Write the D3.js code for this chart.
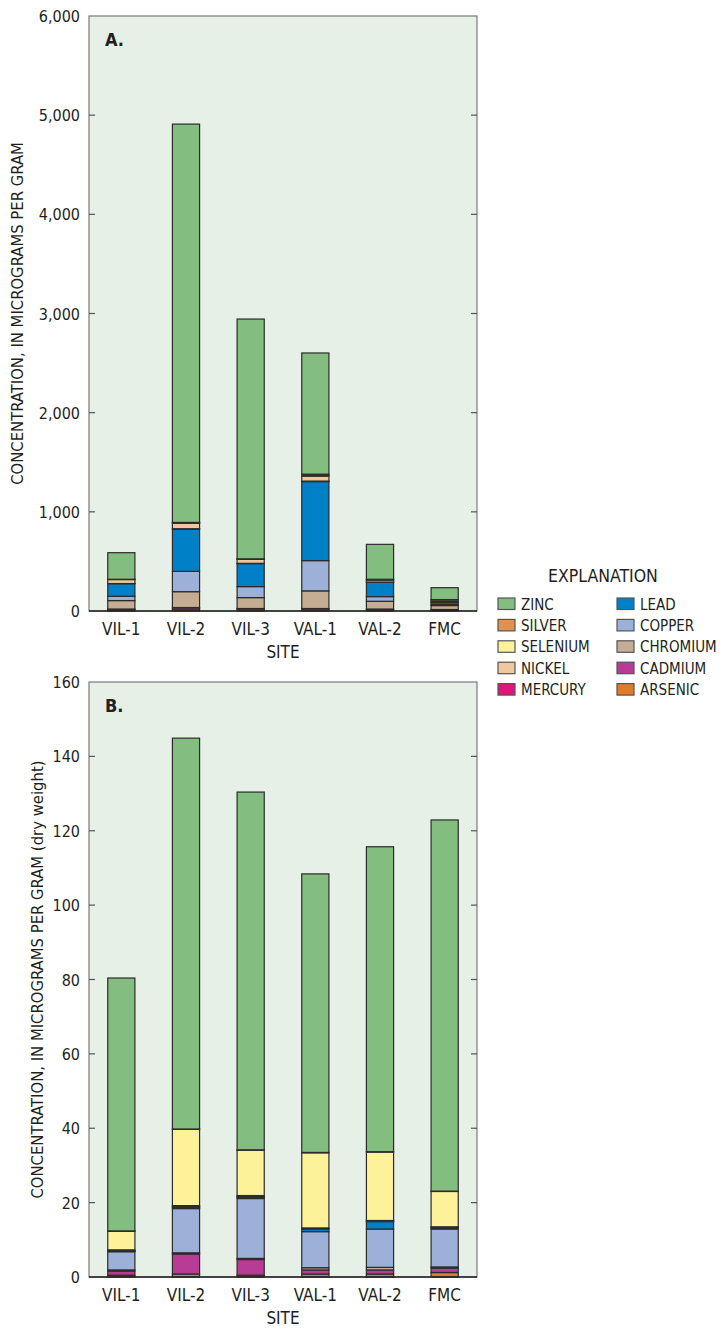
<!DOCTYPE html>
<html>
<head>
<meta charset="utf-8">
<script src="https://cdn.jsdelivr.net/npm/d3@7"></script>
<style>
  body { margin: 0; background: #fff; }
  svg text { font-family: "Liberation Sans Narrow", "DejaVu Sans Condensed", "Arial Narrow", sans-serif; fill: #231f20; }
</style>
</head>
<body>
<div id="chart"></div>
<script>
// sites along x
var sites = ["VIL-1", "VIL-2", "VIL-3", "VAL-1", "VAL-2", "FMC"];
// stacked bottom to top
var metals = ["ARSENIC", "CADMIUM", "CHROMIUM", "COPPER", "LEAD", "MERCURY", "NICKEL", "SELENIUM", "SILVER", "ZINC"];
var metalColors = ["#e07b2a", "#b83c96", "#c4ad92", "#9db0d8", "#0080c6", "#e0157a", "#f0c8a0", "#fdf29a", "#e0914f", "#84bd80"];
// legend order (two columns)
var legendLeft = ["ZINC", "SILVER", "SELENIUM", "NICKEL", "MERCURY"];
var legendRight = ["LEAD", "COPPER", "CHROMIUM", "CADMIUM", "ARSENIC"];

// panel A values, micrograms per gram
var arsenicA = [15, 20, 20, 20, 15, 10];
var cadmiumA = [5, 15, 5, 5, 5, 5];
var chromiumA = [85, 160, 110, 178, 78, 40];
var copperA = [43, 205, 111, 305, 47, 10];
var leadA = [128, 425, 232, 797, 145, 20];
var mercuryA = [1, 5, 3, 5, 2, 2];
var nickelA = [40, 55, 40, 50, 20, 10];
var seleniumA = [2, 5, 3, 10, 5, 15];
var silverA = [1, 3, 2, 10, 3, 3];
var zincA = [268, 4017, 2418, 1222, 352, 120];
var ticksA = [0, 1000, 2000, 3000, 4000, 5000, 6000];

// panel B values, micrograms per gram dry weight
var arsenicB = [0.5, 0.8, 0.5, 0.8, 0.8, 1.2];
var cadmiumB = [1.1, 5.4, 4.2, 1.1, 1.1, 1.2];
var chromiumB = [0.3, 0.3, 0.3, 0.6, 0.7, 0.3];
var copperB = [4.9, 11.9, 16.1, 9.7, 10.3, 10.2];
var leadB = [0.2, 0.4, 0.4, 0.7, 2.0, 0.3];
var mercuryB = [0.1, 0.1, 0.1, 0.1, 0.1, 0.1];
var nickelB = [0.2, 0.3, 0.3, 0.2, 0.2, 0.2];
var seleniumB = [5.0, 20.5, 12.2, 20.2, 18.4, 9.5];
var silverB = [0.1, 0.1, 0.1, 0.1, 0.1, 0.1];
var zincB = [68.0, 105.1, 96.2, 74.9, 82.0, 99.8];
var ticksB = [0, 20, 40, 60, 80, 100, 120, 140, 160];

var svg = d3.select("#chart").append("svg")
    .attr("width", 722)
    .attr("height", 1332);

var color = d3.scaleOrdinal().domain(metals).range(metalColors);

function buildRows(cols) {
  return sites.map(function (s, i) {
    var row = { site: s };
    metals.forEach(function (m, j) { row[m] = cols[j][i]; });
    return row;
  });
}

function drawPanel(opt) {
  var x = d3.scaleBand().domain(sites)
      .range([opt.left, opt.right])
      .paddingInner(0.58).paddingOuter(0.29);
  var y = d3.scaleLinear().domain([0, opt.max]).range([opt.bottom, opt.top]);

  var g = svg.append("g");

  g.append("rect")
      .attr("x", opt.left).attr("y", opt.top)
      .attr("width", opt.right - opt.left).attr("height", opt.bottom - opt.top)
      .attr("fill", "#e6f0e6")
      .attr("stroke", "#7a7a7a").attr("stroke-width", 1.2);

  // inward ticks on both sides
  g.append("g").selectAll("line.tl")
      .data(opt.ticks.slice(1, -1)).enter().append("line")
      .attr("x1", opt.left).attr("x2", opt.left + 6)
      .attr("y1", d => y(d)).attr("y2", d => y(d))
      .attr("stroke", "#555").attr("stroke-width", 1.2);
  g.append("g").selectAll("line.tr")
      .data(opt.ticks.slice(1, -1)).enter().append("line")
      .attr("x1", opt.right).attr("x2", opt.right - 6)
      .attr("y1", d => y(d)).attr("y2", d => y(d))
      .attr("stroke", "#555").attr("stroke-width", 1.2);

  g.append("g").selectAll("text")
      .data(opt.ticks).enter().append("text")
      .attr("x", opt.left - 9)
      .attr("y", d => y(d) + 6)
      .attr("text-anchor", "end")
      .attr("font-size", "16px")
      .text(d => d3.format(",")(d));

  var stacked = d3.stack().keys(metals)(buildRows(opt.cols));

  g.append("g").selectAll("g")
      .data(stacked).enter().append("g")
      .attr("fill", d => color(d.key))
      .selectAll("rect")
      .data(d => d).enter().append("rect")
      .attr("x", d => x(d.data.site))
      .attr("width", x.bandwidth())
      .attr("y", d => y(d[1]))
      .attr("height", d => y(d[0]) - y(d[1]))
      .attr("stroke", "#2b2b2b")
      .attr("stroke-width", 1.2);

  // x axis line
  g.append("line")
      .attr("x1", opt.left).attr("x2", opt.right)
      .attr("y1", opt.bottom).attr("y2", opt.bottom)
      .attr("stroke", "#231f20").attr("stroke-width", 1.6);

  g.append("g").selectAll("text")
      .data(sites).enter().append("text")
      .attr("x", d => x(d) + x.bandwidth() / 2)
      .attr("y", opt.bottom + 24)
      .attr("text-anchor", "middle")
      .attr("font-size", "17px")
      .text(d => d);

  g.append("text")
      .attr("x", (opt.left + opt.right) / 2)
      .attr("y", opt.bottom + 47)
      .attr("text-anchor", "middle")
      .attr("font-size", "17px")
      .text("SITE");

  g.append("text")
      .attr("transform", "translate(" + opt.titleX + "," + (opt.top + opt.bottom) / 2 + ") rotate(-90)")
      .attr("text-anchor", "middle")
      .attr("font-size", "16.5px")
      .text(opt.title);

  g.append("text")
      .attr("x", opt.left + 16)
      .attr("y", opt.top + 30)
      .attr("font-size", "18px")
      .attr("font-weight", "bold")
      .text(opt.letter);
}

drawPanel({
  left: 89, right: 477, top: 16, bottom: 611, max: 6000, ticks: ticksA,
  cols: [arsenicA, cadmiumA, chromiumA, copperA, leadA, mercuryA, nickelA, seleniumA, silverA, zincA],
  title: "CONCENTRATION, IN MICROGRAMS PER GRAM", titleX: 23, letter: "A."
});

drawPanel({
  left: 89, right: 477, top: 682, bottom: 1277, max: 160, ticks: ticksB,
  cols: [arsenicB, cadmiumB, chromiumB, copperB, leadB, mercuryB, nickelB, seleniumB, silverB, zincB],
  title: "CONCENTRATION, IN MICROGRAMS PER GRAM (dry weight)", titleX: 43, letter: "B."
});

// legend
var legend = svg.append("g");
legend.append("text")
    .attr("x", 603).attr("y", 582)
    .attr("text-anchor", "middle")
    .attr("font-size", "17.5px")
    .text("EXPLANATION");

[[legendLeft, 498], [legendRight, 617]].forEach(function (col) {
  var items = legend.append("g").selectAll("g")
      .data(col[0]).enter().append("g")
      .attr("transform", (d, i) => "translate(" + col[1] + "," + (598 + i * 21.4) + ")");
  items.append("rect")
      .attr("width", 17).attr("height", 11.5)
      .attr("fill", d => color(d))
      .attr("stroke", "#555").attr("stroke-width", 1.2);
  items.append("text")
      .attr("x", 23).attr("y", 11.5)
      .attr("font-size", "15px")
      .text(d => d);
});
</script>
</body>
</html>
